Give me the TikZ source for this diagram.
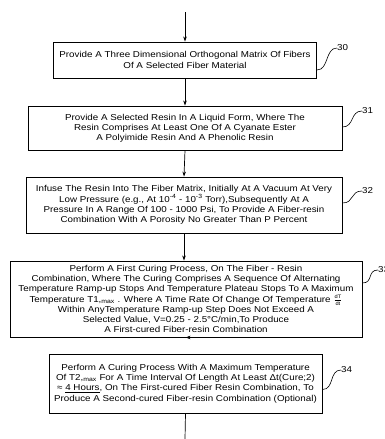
\documentclass[tikz,border=0pt]{standalone}
\usepackage{fontspec}
\setmainfont{Liberation Sans}[FakeStretch=1.14]
\usepackage{xcolor}
\usepackage{tikz}
\usetikzlibrary{positioning,calc,arrows.meta}

\tikzset{
    procbox/.style={draw, line width=0.9pt, align=center, inner sep=1pt,
        font=\fontsize{8.6}{10.2}\selectfont},
    reflabel/.style={anchor=west, inner sep=0pt, font=\fontsize{8.6}{9}\selectfont},
    flow/.style={-{Stealth[length=5pt,width=3.5pt]}, line width=0.7pt},
    squig/.style={line width=0.6pt}
}

\begin{document}
\begin{tikzpicture}[x=1pt, y=-1pt]
    \useasboundingbox (0,0) rectangle (384,439);
    % process steps
    \node [procbox, minimum width=263pt, minimum height=36pt] (b30) at (185,60)
        {Provide A Three Dimensional Orthogonal Matrix Of Fibers\\ Of A Selected Fiber Material};
    \node [procbox, minimum width=314pt, minimum height=44pt] (b31) at (185,128)
        {Provide A Selected Resin In A Liquid Form, Where The\\ Resin Comprises At Least One Of A Cyanate Ester\\ A Polyimide Resin And A Phenolic Resin};
    \node [procbox, minimum width=316pt, minimum height=56pt] (b32) at (184,205)
        {Infuse The Resin Into The Fiber Matrix, Initially At A Vacuum At Very\\ Low Pressure (e.g., At 10\textsuperscript{-4} - 10\textsuperscript{-3} Torr),Subsequently At A\\ Pressure In A Range Of 100 - 1000 Psi, To Provide A Fiber-resin\\ Combination With A Porosity No Greater Than P Percent};
    \node [procbox, minimum width=352pt, minimum height=76pt] (b33) at (186,299)
        {Perform A First Curing Process, On The Fiber - Resin\\ Combination, Where The Curing Comprises A Sequence Of Alternating\\ Temperature Ramp-up Stops And Temperature Plateau Stops To A Maximum\\ Temperature T1,\textsubscript{max} . Where A Time Rate Of Change Of Temperature $\frac{\mbox{\tiny dT}}{\mbox{\tiny dt}}$\\ Within AnyTemperature Ramp-up Step Does Not Exceed A\\ Selected Value, V=0.25 - 2.5°C/min,To Produce\\ A First-cured Fiber-resin Combination};
    \node [procbox, minimum width=273pt, minimum height=59pt] (b34) at (185.5,383.5)
        {Perform A Curing Process With A Maximum Temperature\\ Of T2,\textsubscript{max} For A Time Interval Of Length At Least Δt(Cure;2)\\ ≈ \underline{4 Hours}, On The First-cured Fiber Resin Combination, To\\ Produce A Second-cured Fiber-resin Combination (Optional)};
    % reference numerals
    \node [reflabel] (l30) at (337,48) {30};
    \node [reflabel] (l31) at (362,111) {31};
    \node [reflabel] (l32) at (362,191) {32};
    \node [reflabel] (l33) at (378,270) {33};
    \node [reflabel] (l34) at (341,370) {34};
    \draw [squig] ([yshift=-10pt]b30.east) .. controls +(12,0) and +(-12,0) .. (l30.west);
    \draw [squig] ([yshift=1pt]b31.east) .. controls +(12,0) and +(-12,0) .. (l31.west);
    \draw [squig] ([yshift=2pt]b32.east) .. controls +(12,0) and +(-12,0) .. (l32.west);
    \draw [squig] ([yshift=16pt]b33.east) .. controls +(11,0) and +(-11,0) .. (l33.west);
    \draw [squig] ([yshift=-6pt]b34.east) .. controls +(12,0) and +(-12,0) .. (l34.west);
    % flow
    \coordinate (top) at (185,12);
    \coordinate (bottom) at (185,439);
    \draw [flow] (top) -- (b30.north);
    \draw [flow] (b30.south) -- (b31.north);
    \draw [flow] (b31.south) -- (b32.north);
    \draw [flow] (b32.south) -- (b32.south |- b33.north);
    \draw [flow] (b33.south) -- (b33.south -| b34.north);
    \draw [line width=0.7pt] (b34.south) -- (bottom);
\end{tikzpicture}
\end{document}
